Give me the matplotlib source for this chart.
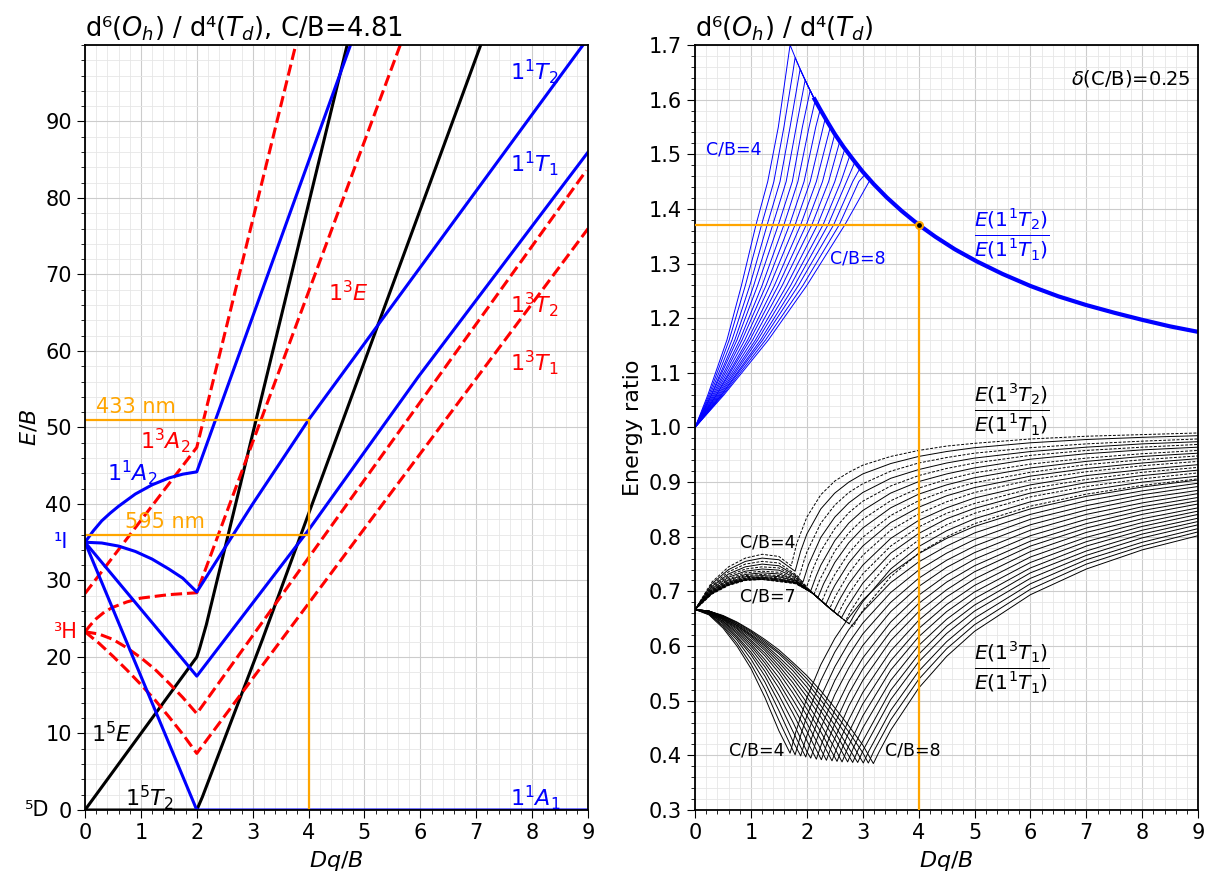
import numpy as np
import matplotlib
matplotlib.use("Agg")
import matplotlib.pyplot as plt
from matplotlib.ticker import MultipleLocator, FormatStrFormatter

nan = np.nan

# ---------------- left panel: d6 Tanabe-Sugano, C/B = 4.81 ----------------
# (Dq/B, E/B) points, one pair of lists per state
q5t2_x = [0, 2.0, 2.1, 3.17, 7.08]
q5t2_y = [0, 0, 1.7, 22.2, 100]
q5e_x = [0, 2.0, 2.05, 2.1, 2.17, 4.69]
q5e_y = [0, 20.0, 21.1, 22.4, 24.2, 100]
s1a1_x = [0, 2.0, 9.0]
s1a1_y = [35, 0, 0]
s1t1_x = [0, 2.0, 4.0, 5.96, 9.0]
s1t1_y = [35, 17.5, 36.6, 56.6, 86.0]
s1t2_x = [0, 0.3, 0.6, 0.9, 1.2, 1.5, 1.75, 2.0, 3.0, 4.0, 8.91]
s1t2_y = [35, 34.9, 34.5, 33.8, 32.8, 31.5, 30.3, 28.5, 40.0, 51.0, 100]
s1a2_x = [0, 0.15, 0.3, 0.45, 0.6, 0.9, 1.2, 1.5, 1.75, 2.0, 4.75]
s1a2_y = [35, 36.5, 37.8, 38.8, 39.7, 41.3, 42.5, 43.4, 43.9, 44.2, 100]
t3a2_x = [0, 2.0, 3.77]
t3a2_y = [28.3, 47.4, 100]
t3e_x = [0, 0.1, 0.2, 0.35, 0.5, 0.75, 1.0, 1.5, 2.0, 5.64]
t3e_y = [23.3, 24.2, 25.0, 25.9, 26.5, 27.2, 27.7, 28.15, 28.4, 100]
t3t2_x = [0, 0.25, 0.5, 0.75, 1.0, 1.25, 1.5, 1.75, 2.0, 8.97]
t3t2_y = [23.3, 23.0, 22.3, 21.2, 19.9, 18.4, 16.6, 14.7, 12.6, 83.6]
t3t1_x = [0, 0.25, 0.5, 0.75, 1.0, 1.25, 1.5, 1.75, 2.0, 9.0]
t3t1_y = [23.3, 21.8, 20.1, 18.3, 16.4, 14.4, 12.2, 9.9, 7.4, 76.0]

# transitions marked in orange
e_433 = 51.0
e_595 = 36.0
dq_obs = 4.0
r_obs = 1.37

# ---------------- right panel: energy ratios for C/B = 4 ... 8 ----------------
cb = [4.0, 4.25, 4.5, 4.75, 5.0, 5.25, 5.5, 5.75, 6.0,
      6.25, 6.5, 6.75, 7.0, 7.25, 7.5, 7.75, 8.0]

# E(1 1T2)/E(1 1T1): Dq/B where each curve crosses these ratio levels
up_levels = [1.06, 1.16, 1.26, 1.371, 1.45, 1.55, 1.65]
up_x = [
    [.23, .25, .27, .29, .30, .32, .34, .36, .38, .39, .41, .43, .45, .47, .48, .50, .52],
    [.57, .61, .66, .71, .75, .80, .84, .89, .94, .98, 1.03, 1.08, 1.12, 1.17, 1.21, 1.26, 1.31],
    [.83, .90, .98, 1.05, 1.12, 1.20, 1.27, 1.34, 1.42, 1.49, 1.56, 1.64, 1.71, 1.78, 1.85, 1.93, 2.00],
    [1.09, 1.19, 1.29, 1.39, 1.49, 1.59, 1.69, 1.79, 1.89, 1.99, 2.09, 2.19, 2.29, 2.38, 2.48, 2.58, 2.68],
    [1.30, 1.41, 1.52, 1.63, 1.74, 1.84, 1.95, 2.06, 2.17, 2.28, 2.39, 2.50, 2.61, 2.71, 2.82, 2.93, nan],
    [1.49, 1.59, 1.70, 1.81, 1.92, 2.04, 2.16, nan, nan, nan, nan, nan, nan, nan, nan, nan, nan],
    [1.63, 1.75, nan, nan, nan, nan, nan, nan, nan, nan, nan, nan, nan, nan, nan, nan, nan],
]
up_end_x = [1.70, 1.79, 1.88, 1.97, 2.06, 2.15, 2.24, 2.33, 2.42,
            2.50, 2.59, 2.68, 2.77, 2.86, 2.95, 3.04, 3.13]
up_end_r = [1.700, 1.677, 1.656, 1.636, 1.617, 1.599, 1.582, 1.566, 1.550,
            1.537, 1.524, 1.510, 1.498, 1.486, 1.474, 1.463, 1.453]
# common high-field branch shared by all C/B
env_x = [1.70, 1.80, 1.90, 2.0, 2.12, 2.24, 2.37, 2.5, 2.66, 2.83, 3.0, 3.2, 3.43,
         3.7, 4.0, 4.3, 4.65, 5.04, 5.5, 6.0, 6.5, 7.0, 7.5, 8.0, 8.5, 9.0]
env_r = [1.700, 1.675, 1.651, 1.629, 1.604, 1.582, 1.559, 1.537, 1.513, 1.490, 1.468,
         1.445, 1.421, 1.396, 1.371, 1.349, 1.326, 1.304, 1.281, 1.259, 1.240, 1.224,
         1.210, 1.197, 1.185, 1.175]

# E(1 3T2)/E(1 1T1): low-field hump (values at mid_hump_x)
mid_hump_x = [0.3, 0.6, 0.9, 1.2, 1.5, 1.8]
mid_hump = [
    [.717, .745, .761, .768, .764, nan],
    [.714, .740, .755, .761, .758, nan],
    [.711, .736, .750, .755, .752, .731],
    [.709, .732, .745, .750, .747, .729],
    [.707, .729, .741, .745, .743, .727],
    [.705, .726, .737, .741, .739, .725],
    [.703, .723, .734, .737, .735, .723],
    [.702, .721, .731, .734, .732, .721],
    [.701, .719, .729, .731, .729, .720],
    [.700, .717, .727, .729, .727, .719],
    [.699, .716, .725, .727, .725, .718],
    [.698, .715, .724, .726, .723, .717],
    [.697, .714, .723, .725, .722, .716],
    [.697, .713, .722, .724, .721, .716],
    [.696, .712, .721, .723, .720, .715],
    [.696, .712, .721, .722, .719, .715],
    [.695, .711, .720, .722, .718, .714],
]
mid_common_x = [2.1, 2.4, 2.7]
mid_common_r = [0.697, 0.670, 0.645]
mid_end_x = [1.72, 1.79, 1.86, 1.93, 2.00, 2.07, 2.13, 2.20, 2.27,
             2.34, 2.41, 2.48, 2.55, 2.62, 2.69, 2.76, 2.83]
mid_end_r = [.747, .737, .726, .717, .709, .701, .695, .689, .682,
             .676, .669, .663, .657, .652, .646, .641, .636]
# high-field branch: value 0.1 after the kink, then values at branch_x
mid_early = [.788, .774, .760, .749, .739, .729, .721, .714, .706,
             .699, .691, .684, .677, .671, .665, .659, .654]
branch_x = [2.0, 2.25, 2.5, 2.75, 3.0, 3.5, 4.0, 4.5, 5.0, 6.0, 7.0, 8.0, 9.0]
mid_branch = [
    [.836, .877, .902, .918, .931, .947, .958, .966, .971, .979, .984, .987, .990],
    [.805, .851, .880, .900, .915, .934, .947, .956, .963, .972, .978, .982, .985],
    [.772, .825, .858, .881, .897, .920, .935, .945, .953, .963, .970, .975, .979],
    [nan, .799, .836, .862, .881, .907, .923, .935, .944, .956, .964, .970, .974],
    [nan, .774, .815, .844, .865, .893, .912, .925, .935, .949, .958, .964, .969],
    [nan, .748, .793, .825, .848, .880, .901, .915, .926, .942, .952, .959, .964],
    [nan, nan, .774, .807, .832, .866, .889, .905, .917, .933, .944, .952, .958],
    [nan, nan, .753, .789, .816, .853, .878, .895, .908, .926, .938, .947, .953],
    [nan, nan, .731, .770, .799, .839, .866, .885, .899, .918, .932, .941, .948],
    [nan, nan, .711, .752, .783, .826, .854, .875, .890, .911, .925, .935, .943],
    [nan, nan, nan, .733, .766, .812, .842, .864, .881, .904, .919, .930, .938],
    [nan, nan, nan, .714, .748, .797, .830, .853, .871, .895, .912, .923, .932],
    [nan, nan, nan, .695, .732, .783, .818, .843, .861, .888, .905, .918, .927],
    [nan, nan, nan, nan, .715, .770, .806, .833, .852, .880, .899, .912, .922],
    [nan, nan, nan, nan, .698, .756, .794, .822, .843, .873, .892, .906, .917],
    [nan, nan, nan, nan, .681, .741, .782, .811, .833, .864, .885, .900, .911],
    [nan, nan, nan, nan, .665, .727, .770, .800, .824, .856, .878, .894, .906],
]

# E(1 3T1)/E(1 1T1): descending part, minimum, rising part
lo_down_x = [0.25, 0.5, 0.75, 1.0, 1.25, 1.5, 1.75, 2.0, 2.25, 2.5, 2.75, 3.0]
lo_down = [
    [.657, .633, .600, .559, .506, .445, nan, nan, nan, nan, nan, nan],
    [.658, .636, .605, .567, .521, .464, nan, nan, nan, nan, nan, nan],
    [.659, .638, .611, .576, .534, .482, .426, nan, nan, nan, nan, nan],
    [.660, .641, .615, .584, .545, .497, .444, nan, nan, nan, nan, nan],
    [.660, .643, .618, .589, .554, .510, .461, .407, nan, nan, nan, nan],
    [.661, .645, .622, .595, .562, .523, .477, .427, nan, nan, nan, nan],
    [.662, .646, .625, .600, .569, .533, .490, .444, nan, nan, nan, nan],
    [.662, .648, .628, .604, .575, .542, .502, .459, .411, nan, nan, nan],
    [.663, .649, .631, .608, .582, .551, .514, .473, .429, nan, nan, nan],
    [.663, .650, .633, .611, .587, .558, .524, .485, .443, nan, nan, nan],
    [.663, .651, .635, .615, .592, .564, .533, .496, .456, .413, nan, nan],
    [.664, .652, .637, .618, .596, .570, .541, .507, .470, .430, nan, nan],
    [.664, .653, .638, .620, .600, .575, .548, .516, .481, .443, nan, nan],
    [.664, .654, .640, .622, .603, .580, .555, .525, .491, .455, nan, nan],
    [.664, .655, .641, .625, .606, .586, .561, .533, .501, .467, .431, nan],
    [.664, .655, .643, .627, .609, .589, .566, .540, .510, .477, .443, .405],
    [.664, .656, .644, .629, .612, .593, .570, .546, .518, .487, .454, .419],
]
lo_v_x = [1.70, 1.79, 1.89, 1.98, 2.07, 2.17, 2.26, 2.35, 2.45,
          2.54, 2.63, 2.73, 2.82, 2.91, 3.01, 3.10, 3.19]
lo_v_r = [.404, .401, .399, .397, .395, .393, .392, .391, .390,
          .389, .388, .388, .387, .387, .386, .386, .385]
lo_early = [.442, .437, .433, .430, .427, .423, .421, .419, .417,
            .415, .413, .413, .411, .410, .408, .408, .406]
lo_branch = [
    [.505, .566, .614, .652, .684, .733, .769, .797, .819, .851, .874, .891, .904],
    [.472, .537, .589, .630, .663, .716, .754, .783, .807, .841, .866, .884, .898],
    [nan, .507, .562, .606, .642, .698, .739, .770, .795, .832, .857, .877, .892],
    [nan, .479, .537, .583, .622, .680, .724, .757, .783, .822, .849, .870, .885],
    [nan, .450, .511, .560, .601, .663, .709, .744, .771, .812, .841, .862, .879],
    [nan, nan, .483, .535, .578, .644, .693, .730, .759, .802, .832, .855, .872],
    [nan, nan, .458, .513, .558, .627, .678, .717, .747, .792, .824, .848, .866],
    [nan, nan, nan, .490, .537, .610, .663, .703, .736, .783, .816, .841, .860],
    [nan, nan, nan, .465, .515, .591, .647, .690, .723, .773, .808, .833, .853],
    [nan, nan, nan, .442, .494, .573, .632, .676, .711, .763, .799, .826, .847],
    [nan, nan, nan, nan, .472, .556, .617, .663, .699, .753, .791, .819, .841],
    [nan, nan, nan, nan, .450, .537, .601, .649, .687, .743, .783, .812, .834],
    [nan, nan, nan, nan, nan, .519, .585, .636, .675, .734, .774, .805, .828],
    [nan, nan, nan, nan, nan, .502, .571, .623, .664, .724, .766, .798, .822],
    [nan, nan, nan, nan, nan, .482, .554, .608, .651, .714, .758, .790, .815],
    [nan, nan, nan, nan, nan, .465, .539, .595, .639, .704, .750, .783, .809],
    [nan, nan, nan, nan, nan, .446, .523, .581, .627, .694, .741, .776, .802],
]


def add_points(xs, ys, px, py):
    # append the (x, y) pairs that are defined for this curve
    for a, b in zip(px, py):
        if not np.isnan(a) and not np.isnan(b):
            xs.append(a)
            ys.append(b)


# ----------------------------------------------------------------------------
fig = plt.figure(figsize=(12.09, 8.77), dpi=100)
axl = fig.add_axes([0.0703, 0.0764, 0.4161, 0.8723])
axr = fig.add_axes([0.5749, 0.0764, 0.4161, 0.8723])

lw = 2.2
axl.plot(q5t2_x, q5t2_y, color="black", lw=lw)
axl.plot(q5e_x, q5e_y, color="black", lw=lw)
for xs, ys in [(t3a2_x, t3a2_y), (t3e_x, t3e_y), (t3t2_x, t3t2_y), (t3t1_x, t3t1_y)]:
    axl.plot(xs, ys, color="red", lw=lw, ls="--")
for xs, ys in [(s1a1_x, s1a1_y), (s1t1_x, s1t1_y), (s1t2_x, s1t2_y), (s1a2_x, s1a2_y)]:
    axl.plot(xs, ys, color="blue", lw=lw)

axl.plot([0, dq_obs, dq_obs], [e_433, e_433, 0], color="orange", lw=1.6)
axl.plot([0, dq_obs], [e_595, e_595], color="orange", lw=1.6)
axl.text(0.2, e_433 + 0.9, "433 nm", color="orange", fontsize=15)
axl.text(0.72, e_595 + 0.9, "595 nm", color="orange", fontsize=15)

fs = 16
axl.text(7.6, 95.5, "$1^1T_2$", color="blue", fontsize=fs)
axl.text(7.6, 83.5, "$1^1T_1$", color="blue", fontsize=fs)
axl.text(4.35, 66.5, "$1^3E$", color="red", fontsize=fs)
axl.text(7.6, 65.0, "$1^3T_2$", color="red", fontsize=fs)
axl.text(7.6, 57.5, "$1^3T_1$", color="red", fontsize=fs)
axl.text(0.98, 47.3, "$1^3A_2$", color="red", fontsize=fs)
axl.text(0.4, 43.0, "$1^1A_2$", color="blue", fontsize=fs)
axl.text(0.1, 8.8, "$1^5E$", color="black", fontsize=fs)
axl.text(0.72, 0.6, "$1^5T_2$", color="black", fontsize=fs)
axl.text(7.6, 0.6, "$1^1A_1$", color="blue", fontsize=fs)

axl.text(-0.63, 0, "⁵D", color="black", fontsize=15, ha="right", va="center")
axl.text(-0.3, 35, "¹I", color="blue", fontsize=15, ha="right", va="center")
axl.text(-0.15, 23.3, "³H", color="red", fontsize=15, ha="right", va="center")

axl.set_xlim(0, 9)
axl.set_ylim(0, 100)
axl.set_yticks(np.arange(0, 100, 10))
axl.xaxis.set_major_locator(MultipleLocator(1))
axl.xaxis.set_minor_locator(MultipleLocator(0.2))
axl.yaxis.set_minor_locator(MultipleLocator(2))
axl.set_xlabel("$Dq/B$", fontsize=16)
axl.set_ylabel("$E/B$", fontsize=16)
axl.set_title("d⁶($O_h$) / d⁴($T_d$), C/B=4.81", loc="left", fontsize=18.5)

# ---- right panel ----
for i in range(len(cb)):
    xs, ys = [0.0], [1.0]
    add_points(xs, ys, [row[i] for row in up_x], up_levels)
    xs.append(up_end_x[i])
    ys.append(up_end_r[i])
    for ex, er in zip(env_x, env_r):
        if ex > up_end_x[i] + 0.03:
            xs.append(ex)
            ys.append(er)
    axr.plot(xs, ys, color="blue", lw=0.7)
axr.plot(env_x[4:], env_r[4:], color="blue", lw=3.0, solid_capstyle="butt")

for i in range(len(cb)):
    xs, ys = [0.0], [0.667]
    for hx, hr in zip(mid_hump_x, mid_hump[i]):
        if not np.isnan(hr) and hx < mid_end_x[i] - 0.03:
            xs.append(hx)
            ys.append(hr)
    for cx, cr in zip(mid_common_x, mid_common_r):
        if cx < mid_end_x[i] - 0.03:
            xs.append(cx)
            ys.append(cr)
    xs += [mid_end_x[i], mid_end_x[i] + 0.1]
    ys += [mid_end_r[i], mid_early[i]]
    add_points(xs, ys, branch_x, mid_branch[i])
    if i % 2 == 0:
        axr.plot(xs, ys, color="black", lw=0.7, dashes=(3, 1.6))
    else:
        axr.plot(xs, ys, color="black", lw=0.7)

for i in range(len(cb)):
    xs, ys = [0.0], [0.667]
    add_points(xs, ys, lo_down_x, lo_down[i])
    xs += [lo_v_x[i], lo_v_x[i] + 0.1]
    ys += [lo_v_r[i], lo_early[i]]
    add_points(xs, ys, branch_x, lo_branch[i])
    axr.plot(xs, ys, color="black", lw=0.7)

axr.plot([0, dq_obs, dq_obs], [r_obs, r_obs, 0.3], color="orange", lw=1.6, zorder=3)
axr.plot([dq_obs], [r_obs], marker="o", ms=5, mfc="black", mec="orange", mew=1.5, zorder=4)

axr.text(0.985, 0.97, r"$\delta$(C/B)=0.25", transform=axr.transAxes,
         ha="right", va="top", fontsize=14)
axr.text(0.2, 1.50, "C/B=4", color="blue", fontsize=12.5)
axr.text(2.42, 1.30, "C/B=8", color="blue", fontsize=12.5)
axr.text(0.8, 0.78, "C/B=4", color="black", fontsize=12.5)
axr.text(0.8, 0.682, "C/B=7", color="black", fontsize=12.5)
axr.text(0.6, 0.40, "C/B=4", color="black", fontsize=12.5)
axr.text(3.4, 0.40, "C/B=8", color="black", fontsize=12.5)
axr.text(5.67, 1.352, r"$\frac{E(1^1T_2)}{E(1^1T_1)}$", color="blue",
         fontsize=21, ha="center", va="center")
axr.text(5.67, 1.032, r"$\frac{E(1^3T_2)}{E(1^1T_1)}$", color="black",
         fontsize=21, ha="center", va="center")
axr.text(5.67, 0.560, r"$\frac{E(1^3T_1)}{E(1^1T_1)}$", color="black",
         fontsize=21, ha="center", va="center")

axr.set_xlim(0, 9)
axr.set_ylim(0.3, 1.7)
axr.set_yticks(np.arange(0.3, 1.71, 0.1))
axr.yaxis.set_major_formatter(FormatStrFormatter("%.1f"))
axr.xaxis.set_major_locator(MultipleLocator(1))
axr.xaxis.set_minor_locator(MultipleLocator(0.2))
axr.yaxis.set_minor_locator(MultipleLocator(0.02))
axr.set_xlabel("$Dq/B$", fontsize=16)
axr.set_ylabel("Energy ratio", fontsize=16)
axr.set_title("d⁶($O_h$) / d⁴($T_d$)", loc="left", fontsize=18.5)

for ax in (axl, axr):
    ax.tick_params(which="major", labelsize=15, length=6)
    ax.tick_params(which="minor", length=3)
    ax.grid(which="major", color="#cccccc", lw=0.8)
    ax.grid(which="minor", color="#e6e6e6", lw=0.6)
    ax.set_axisbelow(True)
    for s in ax.spines.values():
        s.set_linewidth(1.3)

plt.savefig("out.png", dpi=100)
